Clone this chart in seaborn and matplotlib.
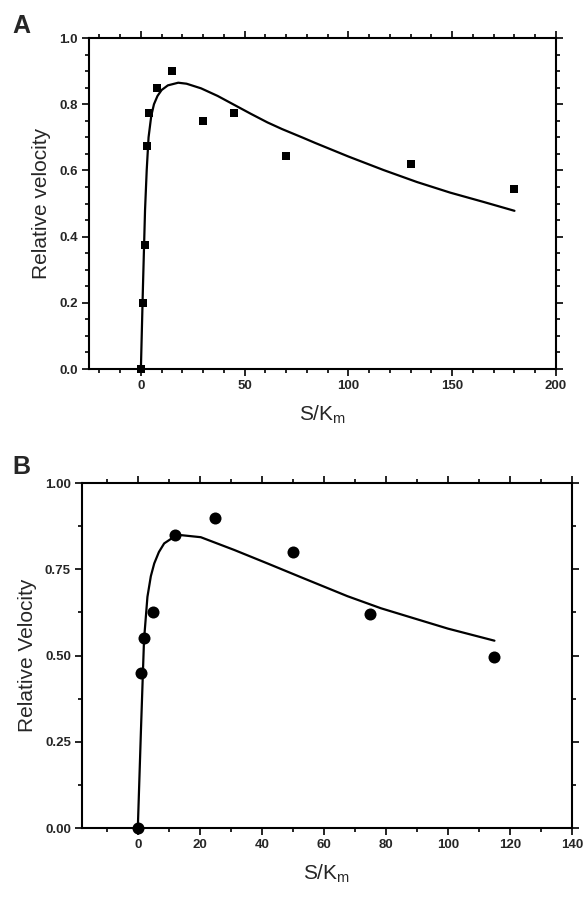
import matplotlib
matplotlib.use("Agg")
import matplotlib.pyplot as plt
from matplotlib.ticker import MultipleLocator, FormatStrFormatter
import pandas as pd
import seaborn as sns

# --- data ---
# panel A: measured points
a_s = [0, 1, 2, 3, 4, 8, 15, 30, 45, 70, 130, 180]
a_v = [0.0, 0.2, 0.375, 0.675, 0.775, 0.85, 0.9, 0.75, 0.775, 0.645, 0.62, 0.545]
# panel A: fitted curve
a_fit_s = [0, 1, 2, 2.8, 3.7, 5, 6.3, 8, 10, 13, 18, 22, 29, 37, 45, 53, 61, 68, 78, 84, 100, 117, 133, 149, 165, 180]
a_fit_v = [0.0, 0.25, 0.48, 0.6, 0.7, 0.765, 0.8, 0.825, 0.843, 0.857, 0.865, 0.862, 0.848, 0.825, 0.798, 0.771, 0.745, 0.725, 0.699, 0.683, 0.642, 0.601, 0.565, 0.533, 0.505, 0.478]

# panel B: measured points
b_s = [0, 1, 2, 5, 12, 25, 50, 75, 115]
b_v = [0.0, 0.45, 0.55, 0.625, 0.85, 0.9, 0.8, 0.62, 0.495]
# panel B: fitted curve
b_fit_s = [0, 1, 2, 3.1, 4.2, 5.3, 6.8, 8.5, 11, 13.9, 20.3, 31.1, 41.8, 52.6, 67.6, 78.4, 89, 100, 115]
b_fit_v = [0.0, 0.28, 0.545, 0.67, 0.73, 0.767, 0.8, 0.825, 0.84, 0.849, 0.843, 0.806, 0.767, 0.727, 0.672, 0.637, 0.608, 0.578, 0.543]

sns.set_theme(style="ticks")
plt.rcParams['font.family'] = ['Liberation Sans', 'DejaVu Sans']

fig = plt.figure(figsize=(5.84, 8.97), dpi=100)
ax_a = fig.add_axes([0.1524, 0.5886, 0.7996, 0.369])
ax_b = fig.add_axes([0.1404, 0.0769, 0.839, 0.3846])

df_a = pd.DataFrame({'s': a_s, 'v': a_v})
df_a_fit = pd.DataFrame({'s': a_fit_s, 'v': a_fit_v})
df_b = pd.DataFrame({'s': b_s, 'v': b_v})
df_b_fit = pd.DataFrame({'s': b_fit_s, 'v': b_fit_v})

# --- panel A ---
sns.lineplot(data=df_a_fit, x='s', y='v', ax=ax_a, color='black', linewidth=1.6, sort=False)
sns.scatterplot(data=df_a, x='s', y='v', ax=ax_a, marker='s', s=36, color='black',
                edgecolor='black', linewidth=0, zorder=3, clip_on=False)
ax_a.set_xlim(-25, 200)
ax_a.set_ylim(0, 1.0)
ax_a.xaxis.set_major_locator(MultipleLocator(50))
ax_a.xaxis.set_minor_locator(MultipleLocator(10))
ax_a.yaxis.set_major_locator(MultipleLocator(0.2))
ax_a.yaxis.set_minor_locator(MultipleLocator(0.05))
ax_a.yaxis.set_major_formatter(FormatStrFormatter('%.1f'))
ax_a.set_ylabel("Relative velocity", fontsize=15, labelpad=6)
ax_a.set_xlabel("S/K$_\\mathregular{m}$", fontsize=15, labelpad=8)

# --- panel B ---
sns.lineplot(data=df_b_fit, x='s', y='v', ax=ax_b, color='black', linewidth=1.6, sort=False)
sns.scatterplot(data=df_b, x='s', y='v', ax=ax_b, marker='o', s=75, color='black',
                edgecolor='black', linewidth=0, zorder=3, clip_on=False)
ax_b.set_xlim(-18, 140)
ax_b.set_ylim(0, 1.0)
ax_b.xaxis.set_major_locator(MultipleLocator(20))
ax_b.xaxis.set_minor_locator(MultipleLocator(10))
ax_b.yaxis.set_major_locator(MultipleLocator(0.25))
ax_b.yaxis.set_minor_locator(MultipleLocator(0.125))
ax_b.yaxis.set_major_formatter(FormatStrFormatter('%.2f'))
ax_b.set_ylabel("Relative Velocity", fontsize=15, labelpad=6)
ax_b.set_xlabel("S/K$_\\mathregular{m}$", fontsize=15, labelpad=8)

for ax in (ax_a, ax_b):
    for sp in ax.spines.values():
        sp.set_visible(True)
        sp.set_linewidth(1.5)
        sp.set_color('black')
    ax.tick_params(which='both', direction='out', top=True, right=True,
                   labeltop=False, labelright=False, color='black', width=1.2)
    ax.tick_params(which='major', length=5, labelsize=9.5, pad=3)
    ax.tick_params(which='minor', length=3)
    for lab in ax.get_xticklabels() + ax.get_yticklabels():
        lab.set_fontweight('bold')

fig.text(0.022, 0.963, "A", fontsize=18, fontweight='bold', va='baseline')
fig.text(0.022, 0.472, "B", fontsize=18, fontweight='bold', va='baseline')

fig.savefig("out.png", dpi=100)
